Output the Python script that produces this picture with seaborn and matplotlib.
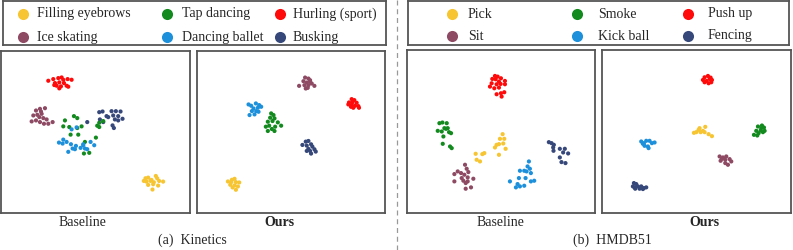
import pandas as pd
import seaborn as sns
import matplotlib.pyplot as plt
from matplotlib.lines import Line2D

# class names, colour order: yellow, green, red, purple, blue, navy
kin_labels = ["Filling eyebrows", "Tap dancing", "Hurling (sport)",
              "Ice skating", "Dancing ballet", "Busking"]
hmdb_labels = ["Pick", "Smoke", "Push up", "Sit", "Kick ball", "Fencing"]
colors = ["#F7C531", "#128A1E", "#FF0A0A", "#8E4A63", "#1D90DB", "#36477A"]

# t-SNE points (pixel-ish units inside each panel, y downwards)
kin_base = {
    "Hurling (sport)": [(145, 105), (160, 100), (175, 97), (185, 95), (190, 102), (203, 100), (215, 102),
                        (165, 112), (178, 110), (192, 112), (170, 120), (183, 122), (200, 120), (178, 128),
                        (163, 118), (205, 123)],
    "Ice skating": [(108, 195), (120, 190), (135, 188), (100, 210), (112, 208), (125, 205), (118, 215),
                    (130, 218), (95, 228), (108, 225), (120, 230), (132, 235), (145, 235), (158, 230),
                    (140, 222), (123, 198)],
    "Busking": [(298, 200), (308, 198), (335, 197), (348, 197), (362, 198), (320, 212), (340, 210),
                (355, 212), (368, 220), (300, 222), (310, 230), (325, 215), (345, 222), (338, 240),
                (342, 248), (355, 225), (262, 230)],
    "Tap dancing": [(195, 225), (222, 212), (232, 218), (190, 243), (208, 245), (245, 243),
                    (232, 248), (212, 268), (235, 268), (298, 232), (310, 227), (298, 245), (292, 241),
                    (288, 277), (255, 290), (252, 325), (268, 323)],
    "Dancing ballet": [(215, 252), (230, 246), (177, 292), (190, 283), (188, 295), (213, 297), (200, 290),
                       (228, 302), (218, 310), (205, 320), (225, 312), (242, 308), (250, 300), (255, 310),
                       (262, 312), (272, 290), (283, 300), (250, 297)],
    "Filling eyebrows": [(437, 400), (445, 398), (468, 393), (472, 400), (440, 410), (452, 408), (462, 412),
                         (478, 408), (490, 410), (445, 420), (460, 418), (475, 422), (458, 434), (455, 405),
                         (432, 408)],
}
kin_ours = {
    "Ice skating": [(330, 97), (340, 100), (325, 108), (345, 105), (335, 112), (350, 115), (312, 122),
                    (328, 120), (340, 120), (358, 122), (332, 130), (338, 128), (345, 110)],
    "Hurling (sport)": [(470, 162), (478, 165), (462, 172), (472, 172), (485, 173), (460, 178), (470, 180),
                        (480, 182), (490, 183), (492, 188), (475, 188), (468, 185)],
    "Dancing ballet": [(160, 178), (168, 182), (182, 175), (192, 180), (175, 190), (188, 188), (198, 185),
                       (170, 198), (183, 198), (163, 210), (178, 208), (190, 200)],
    "Tap dancing": [(228, 205), (235, 210), (225, 218), (238, 220), (218, 230), (232, 228), (248, 232),
                    (258, 242), (212, 245), (222, 242), (240, 245), (218, 258), (238, 258), (230, 252)],
    "Busking": [(332, 290), (340, 288), (348, 298), (322, 300), (335, 302), (352, 305), (340, 312),
                (358, 313), (345, 318), (362, 320), (335, 318), (348, 326)],
    "Filling eyebrows": [(110, 405), (118, 402), (98, 410), (108, 412), (122, 412), (132, 413), (105, 420),
                         (118, 422), (128, 425), (112, 428), (122, 435)],
}
hmdb_base = {
    "Push up": [(270, 93), (278, 95), (262, 102), (272, 103), (288, 100), (300, 108), (260, 115),
                (275, 118), (287, 117), (300, 118), (255, 125), (268, 130), (282, 128), (275, 148),
                (288, 145), (298, 142), (290, 155), (282, 110)],
    "Smoke": [(103, 235), (112, 233), (125, 235), (118, 250), (128, 250), (98, 258), (110, 260),
              (132, 262), (138, 265), (115, 275), (113, 297), (135, 305), (140, 310), (123, 252)],
    "Pick": [(293, 268), (285, 282), (298, 282), (282, 298), (295, 296), (270, 308), (302, 312),
             (282, 330), (212, 327), (232, 328), (238, 325), (215, 345), (225, 350), (275, 300)],
    "Fencing": [(432, 292), (440, 295), (445, 308), (446, 318), (465, 312), (480, 312), (475, 323),
                (490, 326), (465, 338), (470, 352), (482, 355), (447, 300)],
    "Sit": [(180, 360), (185, 372), (158, 380), (168, 385), (178, 390), (190, 382), (148, 388),
            (188, 398), (175, 408), (188, 410), (205, 402), (148, 410), (182, 415), (198, 428),
            (182, 432), (170, 400)],
    "Kick ball": [(372, 350), (368, 365), (375, 372), (345, 378), (358, 378), (365, 380), (378, 385),
                  (342, 400), (362, 400), (315, 410), (338, 418), (333, 428), (345, 425), (358, 423),
                  (378, 410), (388, 408)],
}
hmdb_ours = {
    "Push up": [(330, 97), (340, 93), (348, 98), (325, 105), (352, 105), (330, 112), (342, 115),
                (350, 112), (336, 108), (345, 102)],
    "Pick": [(312, 255), (318, 262), (305, 262), (325, 258), (330, 262), (315, 250), (342, 268),
             (352, 274), (332, 246), (298, 264)],
    "Smoke": [(490, 245), (500, 250), (508, 248), (485, 258), (498, 257), (510, 258), (478, 270),
              (488, 272), (492, 265), (505, 262), (502, 242)],
    "Kick ball": [(140, 290), (148, 295), (155, 288), (165, 288), (172, 295), (180, 293), (150, 303),
                  (160, 305), (162, 310), (145, 297)],
    "Sit": [(375, 335), (385, 338), (395, 335), (378, 348), (392, 345), (405, 343), (410, 350),
            (392, 355), (400, 360), (382, 342)],
    "Fencing": [(118, 415), (125, 418), (115, 425), (130, 425), (140, 425), (148, 430), (155, 428),
                (122, 432), (135, 432), (145, 433), (120, 428)],
}


def to_frame(points):
    rows = [(lab, x, y) for lab, pts in points.items() for x, y in pts]
    return pd.DataFrame(rows, columns=["label", "x", "y"])


sns.set_style("white")
plt.rcParams["font.family"] = ["Liberation Serif", "DejaVu Serif"]

W, H = 793, 250
fig = plt.figure(figsize=(W / 100, H / 100), dpi=100)
frame_col = "#555555"

panels = [
    (kin_base, kin_labels, [0.0013, 0.148, 0.238, 0.648], (3, 570, 505, 15)),
    (kin_ours, kin_labels, [0.2484, 0.148, 0.237, 0.648], (5, 570, 505, 17)),
    (hmdb_base, hmdb_labels, [0.513, 0.148, 0.237, 0.652], (5, 570, 505, 15)),
    (hmdb_ours, hmdb_labels, [0.759, 0.148, 0.238, 0.652], (22, 588, 505, 15)),
]
for pts, labels, rect, lim in panels:
    ax = fig.add_axes(rect)
    sns.scatterplot(data=to_frame(pts), x="x", y="y", hue="label",
                    palette=dict(zip(labels, colors)), s=9, linewidth=0,
                    legend=False, ax=ax)
    ax.set_xlim(lim[0], lim[1])
    ax.set_ylim(lim[2], lim[3])
    ax.set_xticks([])
    ax.set_yticks([])
    ax.set_xlabel("")
    ax.set_ylabel("")
    for sp in ax.spines.values():
        sp.set_color(frame_col)
        sp.set_linewidth(1.3)

# legend boxes, entries placed in figure pixels (marker x, text x per column; row y)
legend_specs = [
    ([0.0038, 0.822, 0.483, 0.174], kin_labels, [23, 167, 280], [37, 182, 293], [14, 37]),
    ([0.5145, 0.822, 0.481, 0.174], hmdb_labels, [452, 577, 688], [468, 598, 708], [14, 36]),
]
for rect, labels, mx, tx, ry in legend_specs:
    lax = fig.add_axes(rect)
    lax.set_xticks([])
    lax.set_yticks([])
    for sp in lax.spines.values():
        sp.set_color(frame_col)
        sp.set_linewidth(1.3)
    for i, lab in enumerate(labels):
        col, row = i % 3, i // 3
        fig.add_artist(Line2D([mx[col] / W], [1 - ry[row] / H], marker="o", ls="",
                              markersize=8, color=colors[i], markeredgewidth=0,
                              transform=fig.transFigure))
        fig.text(tx[col] / W, 1 - ry[row] / H, lab, ha="left", va="center", fontsize=10)

# captions
fig.text(0.104, 0.112, "Baseline", ha="center", va="center", fontsize=10)
fig.text(0.353, 0.112, "Ours", ha="center", va="center", fontsize=10, fontweight="bold")
fig.text(0.631, 0.112, "Baseline", ha="center", va="center", fontsize=10)
fig.text(0.888, 0.112, "Ours", ha="center", va="center", fontsize=10, fontweight="bold")
fig.text(0.242, 0.04, "(a)  Kinetics", ha="center", va="center", fontsize=10)
fig.text(0.772, 0.04, "(b)  HMDB51", ha="center", va="center", fontsize=10)

fig.add_artist(Line2D([0.5005, 0.5005], [0.0, 1.0], color="#999999", lw=0.9,
                      ls=(0, (4, 3)), transform=fig.transFigure))

fig.savefig("out.png", dpi=100)
